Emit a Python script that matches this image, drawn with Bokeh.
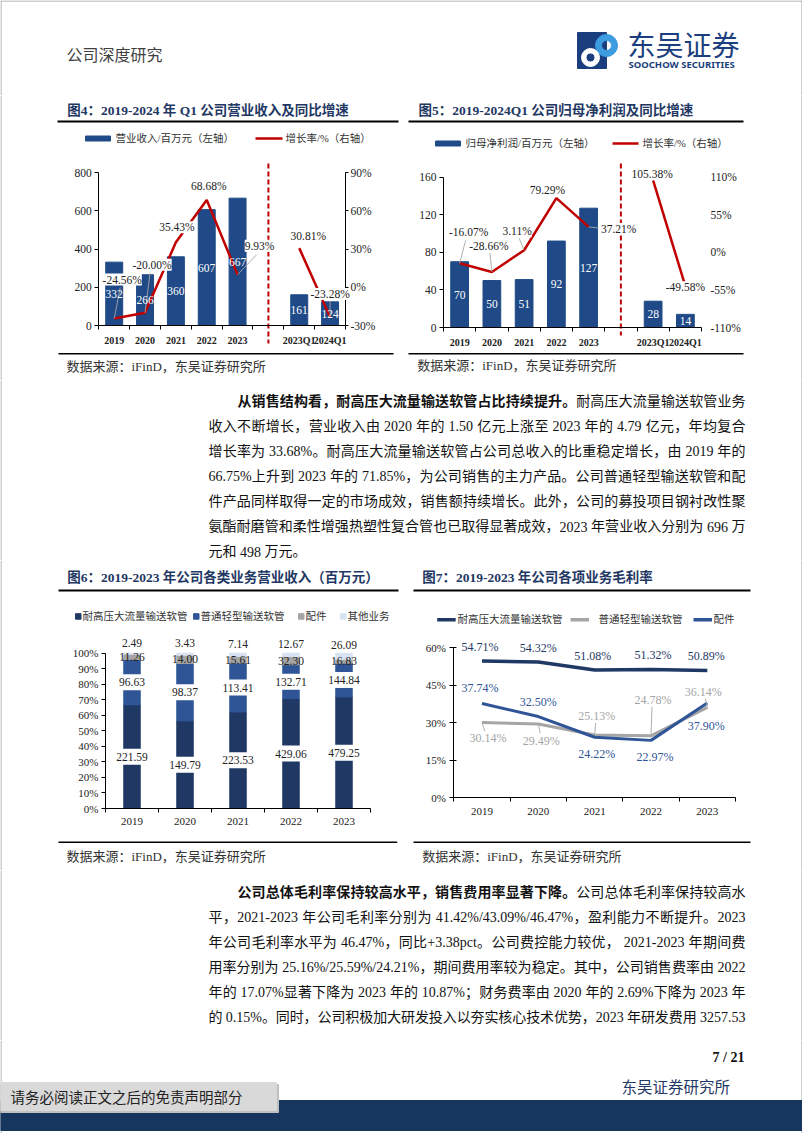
from bokeh.plotting import figure
from bokeh.models import (Range1d, LinearAxis, FixedTicker, LabelSet, ColumnDataSource,
                          PrintfTickFormatter, NumeralTickFormatter)
from bokeh.layouts import column, row
from bokeh.core.properties import value
from bokeh.embed import file_html
from bokeh.resources import INLINE

# ---------------- data ----------------
cats4 = ["2019", "2020", "2021", "2022", "2023", "", "2023Q1", "2024Q1"]
rev4 = [332, 266, 360, 607, 667, None, 161, 124]
gr4 = [-24.56, -20.00, 35.43, 68.68, 9.93, None, 30.81, -23.28]
lticks4 = [0, 200, 400, 600, 800]
rticks4 = [-30, 0, 30, 60, 90]

cats5 = ["2019", "2020", "2021", "2022", "2023", "", "2023Q1", "2024Q1"]
np5 = [70, 50, 51, 92, 127, None, 28, 14]
gr5 = [-16.07, -28.66, 3.11, 79.29, 37.21, None, 105.38, -49.58]
lticks5 = [0, 40, 80, 120, 160]
rticks5 = [-110, -55, 0, 55, 110]

years6 = ["2019", "2020", "2021", "2022", "2023"]
hp6 = [221.59, 149.79, 223.53, 429.06, 479.25]
lt6 = [96.63, 98.37, 113.41, 132.71, 144.84]
acc6 = [11.26, 14.00, 15.61, 32.30, 16.83]
oth6 = [2.49, 3.43, 7.14, 12.67, 26.09]
series6 = ["耐高压大流量输送软管", "普通轻型输送软管", "配件", "其他业务"]
yticks6 = [0, 0.1, 0.2, 0.3, 0.4, 0.5, 0.6, 0.7, 0.8, 0.9, 1.0]

years7 = ["2019", "2020", "2021", "2022", "2023"]
hp7 = [54.71, 54.32, 51.08, 51.32, 50.89]
lt7 = [30.14, 29.49, 25.13, 24.78, 36.14]
acc7 = [37.74, 32.50, 24.22, 22.97, 37.90]
series7 = ["耐高压大流量输送软管", "普通轻型输送软管", "配件"]
yticks7 = [0, 15, 30, 45, 60]

# ---------------- styles ----------------
MIX = "Liberation Serif, Noto Sans CJK SC"
SERIF = "Liberation Serif"
CJK = "Noto Sans CJK SC"
TITLE_C = "#1f3864"
RED = "#c00000"
BAR45 = "#1f4a87"
C6 = ["#1f3864", "#2f5597", "#a5a5a5", "#d9e2f3"]
C7 = ["#1f3864", "#a5a5a5", "#2f5597"]
LEAD = "#a6a6a6"
TXT = "#333333"
FRAME = "#a0a0a0"

off4 = [(8, 39), (7, 48), (1, 15), (2, 14), (22, 29), None, (9, 12), (0, 23)]
lead4 = [(6, 31), (5, 40), None, None, (19, 20), None, None, (0, 16)]
off5 = [(9, 31), (-3, 26), (-7, 19), (-9, 8), (30, -2), None, (-1, 6), (0, -1)]
lead5 = [(6, 23), (-2, 19), (-5, 12), None, (10, -1), None, None, None]
off6 = [0, 0, 0, 11]
box6_on = [True, True, False, False]
box6 = (34, 16)
off7 = [
    [(-2, 14.5), (0, 14.5), (-2, 14.5), (2, 14.5), (-1, 14.5)],
    [(6, -16), (3, -16.5), (2, 19), (2, 36), (-4, 15.5)],
    [(-2, 15), (0, 15), (2, -17), (4, -16.5), (-1, -22.5)],
]
lead7 = [(3, -9), (2, -9), (1, 12), (1, 29), (-2, 9)]

PX = dict(x_range_name="px", y_range_name="py")


def base_fig(xoff, top, w, h, xr, yr):
    p = figure(width=w, height=h, x_range=Range1d(*xr), y_range=Range1d(*yr),
               x_axis_type=None, y_axis_type=None, title=None, toolbar_location=None,
               output_backend="svg", min_border=0, outline_line_color=None)
    p.background_fill_color = "white"
    p.border_fill_color = "white"
    p.extra_x_ranges = {"px": Range1d(xoff, xoff + w)}
    p.extra_y_ranges = {"py": Range1d(top + h, top)}
    return p


def canvas(xoff, top, w, h):
    return base_fig(xoff, top, w, h, (xoff, xoff + w), (top + h, top))


def txt(p, x, y, s, size, color=TXT, font=MIX, style="normal", align="left"):
    p.text(x=[x], y=[y], text=[s], text_font=value(font), text_font_size=size,
           text_color=color, text_font_style=style, text_align=align,
           text_baseline="middle", **PX)


def hline(p, x0, x1, y, w=1.5, color="#000000"):
    p.segment(x0=[x0], y0=[y], x1=[x1], y1=[y], line_color=color, line_width=w, **PX)


def vline(p, x, y0, y1, w=1, color=FRAME):
    p.segment(x0=[x], y0=[y0], x1=[x], y1=[y1], line_color=color, line_width=w, **PX)


def style_axis(ax, size="12px", bold=False):
    ax.axis_line_color = "black"
    ax.axis_line_width = 1
    ax.major_tick_line_color = "black"
    ax.major_tick_out = 4
    ax.major_tick_in = 0
    ax.minor_tick_line_color = None
    ax.major_label_text_font = SERIF
    ax.major_label_text_font_size = size
    ax.major_label_text_color = "#222222"
    ax.major_label_text_font_style = "bold" if bold else "normal"
    ax.major_label_standoff = 3


def x_cat_axis(p, cats, size, bold, standoff):
    n = len(cats)
    ax = LinearAxis(fixed_location=0,
                    ticker=FixedTicker(ticks=list(range(n)),
                                       minor_ticks=[i - 0.5 for i in range(n + 1)]),
                    major_label_overrides={i: c for i, c in enumerate(cats)},
                    bounds=(-0.5, n - 0.5))
    style_axis(ax, size, bold)
    ax.major_tick_line_color = None
    ax.major_tick_out = 0
    ax.minor_tick_line_color = "black"
    ax.minor_tick_out = 4
    ax.minor_tick_in = 0
    ax.major_label_standoff = standoff
    p.add_layout(ax, "below")


def y_axis(p, ticks, loc, side, fmt=None, rname=None, size="12px", standoff=3):
    kw = {"y_range_name": rname} if rname else {}
    ax = LinearAxis(fixed_location=loc, ticker=FixedTicker(ticks=ticks),
                    bounds=(ticks[0], ticks[-1]), **kw)
    if fmt is not None:
        ax.formatter = fmt
    style_axis(ax, size)
    ax.major_label_standoff = standoff
    p.add_layout(ax, side)
    return ax


def add_labels(p, pad=None, **kw):
    ls = LabelSet(**kw)
    if pad is not None:
        try:
            ls.padding = pad
        except Exception:
            pass
    p.add_layout(ls)


# ---------------- combo panels (fig 4 / 5) ----------------
def combo_panel(xoff, cats, bars, growth, lticks, rticks, fl_page, fr_page, y0, yt,
                offs, leads, right_line, dash_bottom):
    W, H, top = 401, 285, 95
    n = len(cats)
    fl = fl_page - xoff
    ppx = (fr_page - fl_page) / n
    xr = (-0.5 - fl / ppx, -0.5 + (W - fl) / ppx)
    kl = (lticks[-1] - lticks[0]) / (y0 - yt)
    kr = (rticks[-1] - rticks[0]) / (y0 - yt)
    yr = (lticks[0] + (y0 - (top + H)) * kl, lticks[0] + (y0 - top) * kl)
    rr = (rticks[0] + (y0 - (top + H)) * kr, rticks[0] + (y0 - top) * kr)
    p = base_fig(xoff, top, W, H, xr, yr)
    p.extra_y_ranges = {"py": Range1d(top + H, top), "r": Range1d(*rr)}

    idx = [i for i, v in enumerate(bars) if v is not None]
    bsrc = ColumnDataSource(dict(x=idx, top=[bars[i] for i in idx],
                                 mid=[bars[i] / 2 for i in idx],
                                 t=[str(bars[i]) for i in idx]))
    p.vbar(x="x", top="top", width=0.55, color=BAR45, source=bsrc)

    x_cat_axis(p, cats, "10px", True, 5)
    y_axis(p, lticks, -0.5, "left", size="11.5px", standoff=3)
    ra = y_axis(p, rticks, n - 0.5, "right", fmt=PrintfTickFormatter(format="%d%%"),
                rname="r", size="11.5px", standoff=2)
    if right_line:
        ra.major_tick_out = 3
    else:
        ra.axis_line_color = None
        ra.major_tick_line_color = None
        ra.major_tick_out = 0
        ra.major_label_standoff = 9

    gap = cats.index("")
    p.segment(x0=[gap], y0=[163], x1=[gap], y1=[dash_bottom], y_range_name="py",
              line_color=RED, line_dash="5 3", line_width=2)

    run = []
    for i, g in enumerate(growth + [None]):
        if g is None:
            if run:
                p.line(x=run, y=[growth[j] for j in run], y_range_name="r",
                       line_color=RED, line_width=2.5)
            run = []
        else:
            run.append(i)

    lx0, ly0, lx1, ly1 = [], [], [], []
    for i, g in enumerate(growth):
        if g is None or leads[i] is None:
            continue
        dx, dy = leads[i]
        lx0.append(i); ly0.append(g)
        lx1.append(i + dx / ppx); ly1.append(g + dy * kr)
    p.segment(x0=lx0, y0=ly0, x1=lx1, y1=ly1, y_range_name="r",
              line_color=LEAD, line_width=0.9)

    add_labels(p, x="x", y="mid", text="t", source=bsrc, text_color="white",
               text_font=value(SERIF), text_font_size="11.5px",
               text_align="center", text_baseline="middle")

    gi = [i for i, g in enumerate(growth) if g is not None]
    gsrc = ColumnDataSource(dict(x=gi, y=[growth[i] for i in gi],
                                 t=["%.2f%%" % growth[i] for i in gi],
                                 dx=[offs[i][0] for i in gi], dy=[offs[i][1] for i in gi]))
    add_labels(p, pad=1, x="x", y="y", text="t", x_offset="dx", y_offset="dy",
               source=gsrc, y_range_name="r", text_color="#222222",
               text_font=value(SERIF), text_font_size="11.5px",
               text_align="center", text_baseline="middle",
               background_fill_color="white")
    return p


p4 = combo_panel(0, cats4, rev4, gr4, lticks4, rticks4, 98.3, 345, 325, 172.3,
                 off4, lead4, True, 343)
txt(p4, 66.7, 110, "图4：2019-2024 年 Q1 公司营业收入及同比增速", "13.5px", TITLE_C, style="bold")
hline(p4, 57, 398, 121, 1.8)
p4.quad(left=[85], right=[110], top=[135.5], bottom=[140.5], color=BAR45, **PX)
txt(p4, 115, 138, "营业收入/百万元（左轴）", "10.5px")
hline(p4, 255, 282, 138, 2.5, RED)
txt(p4, 285, 138, "增长率/%（右轴）", "10.5px")
hline(p4, 58, 393, 353.3, 1.5)
txt(p4, 66, 366, "数据来源：iFinD，东吴证券研究所", "13px")
vline(p4, 0.5, 95, 380)

p5 = combo_panel(401, cats5, np5, gr5, lticks5, rticks5, 443, 701, 327, 176.7,
                 off5, lead5, False, 335)
txt(p5, 418, 110, "图5：2019-2024Q1 公司归母净利润及同比增速", "13.5px", TITLE_C, style="bold")
hline(p5, 408, 743, 121, 1.8)
p5.quad(left=[435], right=[460], top=[140.5], bottom=[145.5], color=BAR45, **PX)
txt(p5, 465, 143, "归母净利润/百万元（左轴）", "10.5px")
hline(p5, 612, 638, 143, 2.5, RED)
txt(p5, 642, 143, "增长率/%（右轴）", "10.5px")
hline(p5, 408, 743, 353.3, 1.5)
txt(p5, 416.7, 365, "数据来源：iFinD，东吴证券研究所", "13px")
vline(p5, 801.5, 95, 380)


# ---------------- fig 6 stacked 100% ----------------
def stack_panel():
    W, H, top = 401, 310, 560
    y0, y100 = 808, 652.7
    fl, frx = 105, 370
    n = len(years6)
    ppx = (frx - fl) / n
    xr = (-0.5 - fl / ppx, -0.5 + (W - fl) / ppx)
    k = 1.0 / (y0 - y100)
    yr = ((y0 - (top + H)) * k, (y0 - top) * k)
    p = base_fig(0, top, W, H, xr, yr)

    vals = [hp6, lt6, acc6, oth6]
    keys = ["a", "b", "c", "d"]
    tot = [sum(v[i] for v in vals) for i in range(n)]
    data = {"x": list(range(n))}
    for kk, v in zip(keys, vals):
        data[kk] = [v[i] / tot[i] for i in range(n)]
    p.vbar_stack(keys, x="x", width=0.31, color=C6, source=ColumnDataSource(data))

    x_cat_axis(p, years6, "11px", False, 5)
    y_axis(p, yticks6, -0.5, "left", fmt=NumeralTickFormatter(format="0%"),
           size="11px", standoff=3)

    lx, ly, lt, ldy, bx, by = [], [], [], [], [], []
    for i in range(n):
        cum = 0
        for s, v in enumerate(vals):
            sh = v[i] / tot[i]
            dy = off6[s]
            lx.append(i); ly.append(cum + sh / 2)
            lt.append("%.2f" % v[i]); ldy.append(dy)
            if box6_on[s]:
                bx.append(i); by.append(cum + sh / 2 + dy * k)
            cum += sh
    # white label boxes behind the main-segment labels
    p.rect(x=bx, y=by, width=box6[0], height=box6[1], width_units="screen",
           height_units="screen", fill_color="white", line_color=None)
    add_labels(p, x="x", y="y", text="t", y_offset="dy",
               source=ColumnDataSource(dict(x=lx, y=ly, t=lt, dy=ldy)),
               text_color="#222222", text_font=value(SERIF), text_font_size="11.5px",
               text_align="center", text_baseline="middle")
    return p


p6 = stack_panel()
txt(p6, 66.7, 576.7, "图6：2019-2023 年公司各类业务营业收入（百万元）", "13.5px", TITLE_C, style="bold")
hline(p6, 58, 398, 590, 1.8)
for sx, tx, lab, col in zip([75, 193, 298, 340], [82, 200, 305, 347], series6, C6):
    p6.quad(left=[sx], right=[sx + 5.5], top=[613.2], bottom=[618.7], color=col, **PX)
    txt(p6, tx, 616, lab, "10.5px")
hline(p6, 58, 396.7, 841.7, 1.5)
txt(p6, 66, 856, "数据来源：iFinD，东吴证券研究所", "13px")
vline(p6, 0.5, 560, 870)


# ---------------- fig 7 lines ----------------
def line_panel():
    W, H, top, xoff = 401, 310, 560, 401
    y0, y60 = 797.3, 647.3
    fl, frx = 453.3 - xoff, 735 - xoff
    n = len(years7)
    ppx = (frx - fl) / n
    xr = (-0.5 - fl / ppx, -0.5 + (W - fl) / ppx)
    k = yticks7[-1] / (y0 - y60)
    yr = ((y0 - (top + H)) * k, (y0 - top) * k)
    p = base_fig(xoff, top, W, H, xr, yr)

    xs = list(range(n))
    series = [hp7, lt7, acc7]
    widths = [3.5, 3, 3]
    for s in (1, 2, 0):
        p.line(x=xs, y=series[s], line_color=C7[s], line_width=widths[s])

    x_cat_axis(p, years7, "11px", False, 6)
    ya = y_axis(p, yticks7, -0.5, "left", fmt=PrintfTickFormatter(format="%d%%"),
                size="11px", standoff=4)
    ya.major_tick_in = 3

    p.segment(x0=xs, y0=lt7, x1=[i + lead7[i][0] / ppx for i in xs],
              y1=[lt7[i] + lead7[i][1] * k for i in xs], line_color=LEAD, line_width=0.9)

    for s in range(3):
        src = ColumnDataSource(dict(x=xs, y=series[s], t=["%.2f%%" % v for v in series[s]],
                                    dx=[o[0] for o in off7[s]], dy=[o[1] for o in off7[s]]))
        add_labels(p, x="x", y="y", text="t", x_offset="dx", y_offset="dy",
                   source=src, text_color=C7[s], text_font=value(SERIF),
                   text_font_size="12px", text_align="center", text_baseline="middle")
    return p


p7 = line_panel()
txt(p7, 421.7, 576.7, "图7：2019-2023 年公司各项业务毛利率", "13.5px", TITLE_C, style="bold")
hline(p7, 413, 750, 590, 1.8)
for sx, tx, lab, col in zip([436.7, 570, 693], [457, 598, 713], series7, C7):
    hline(p7, sx, sx + 18.5, 619.3, 3.5, col)
    txt(p7, tx, 619.3, lab, "10.5px")
hline(p7, 413, 750, 841.7, 1.5)
txt(p7, 421.7, 856, "数据来源：iFinD，东吴证券研究所", "13px")
vline(p7, 801.5, 560, 870)

# ---------------- body text ----------------
PARA1 = [
    "从销售结构看，耐高压大流量输送软管占比持续提升。耐高压大流量输送软管业务",
    "收入不断增长，营业收入由 2020 年的 1.50 亿元上涨至 2023 年的 4.79 亿元，年均复合",
    "增长率为 33.68%。耐高压大流量输送软管占公司总收入的比重稳定增长，由 2019 年的",
    "66.75%上升到 2023 年的 71.85%，为公司销售的主力产品。公司普通轻型输送软管和配",
    "件产品同样取得一定的市场成效，销售额持续增长。此外，公司的募投项目钢衬改性聚",
    "氨酯耐磨管和柔性增强热塑性复合管也已取得显著成效，2023 年营业收入分别为 696 万",
    "元和 498 万元。",
]
PARA2 = [
    "公司总体毛利率保持较高水平，销售费用率显著下降。公司总体毛利率保持较高水",
    "平，2021-2023 年公司毛利率分别为 41.42%/43.09%/46.47%，盈利能力不断提升。2023",
    "年公司毛利率水平为 46.47%，同比+3.38pct。公司费控能力较优， 2021-2023 年期间费",
    "用率分别为 25.16%/25.59%/24.21%，期间费用率较为稳定。其中，公司销售费率由 2022",
    "年的 17.07%显著下降为 2023 年的 10.87%；财务费率由 2020 年的 2.69%下降为 2023 年",
    "的 0.15%。同时，公司积极加大研发投入以夯实核心技术优势，2023 年研发费用 3257.53",
]
WT = {".": 250, ",": 250, "%": 833, "/": 278, "-": 333, "+": 564, " ": 250,
      "p": 500, "c": 444, "t": 278}


def cw(ch):
    if ord(ch) > 0x2000:
        return 1.0
    if ch.isdigit():
        return 0.5
    return WT.get(ch, 500) / 1000


def tokenize(s):
    toks, run, start = [], "", 0
    for i, ch in enumerate(s):
        if ord(ch) > 0x2000 or ch == " ":
            if run:
                toks.append((run, start))
                run = ""
            toks.append((ch, i))
        else:
            if not run:
                start = i
            run += ch
    if run:
        toks.append((run, start))
    return toks


def paragraph(lines, bold_n, top, h, y0, dy, x0, x1, xind, justify_last):
    p = canvas(0, top, 802, h)
    nx, ny, nt, bx, by, bt = [], [], [], [], [], []
    fs = 14
    for k, line in enumerate(lines):
        start = xind if k == 0 else x0
        toks = tokenize(line)
        ws = [sum(cw(c) for c in t) * fs for t, _ in toks]
        just = justify_last or k < len(lines) - 1
        extra = (x1 - start - sum(ws)) / (len(toks) - 1) if just and len(toks) > 1 else 0
        x = start
        y = y0 + k * dy
        for (t, ci), w in zip(toks, ws):
            if t != " ":
                if k == 0 and ci < bold_n:
                    bx.append(x); by.append(y); bt.append(t)
                else:
                    nx.append(x); ny.append(y); nt.append(t)
            x += w + extra
    p.text(x=nx, y=ny, text=nt, text_font=value(MIX), text_font_size="14px",
           text_color="#111111", text_baseline="middle", **PX)
    p.text(x=bx, y=by, text=bt, text_font=value(MIX), text_font_size="14px",
           text_font_style="bold", text_color="#111111", text_baseline="middle", **PX)
    vline(p, 0.5, top, top + h)
    vline(p, 801.5, top, top + h)
    return p


para1 = paragraph(PARA1, 24, 380, 180, 400.5, 25.1, 208, 745, 237, False)
para2 = paragraph(PARA2, 24, 870, 170, 891.7, 25.0, 208, 745, 237, True)

# ---------------- header / footer ----------------
hd = canvas(0, 0, 802, 95)
hline(hd, 0, 802, 0.5, 1, FRAME)
vline(hd, 0.5, 0, 95)
vline(hd, 801.5, 0, 95)
txt(hd, 66, 53, "公司深度研究", "16px", "#404040", font=CJK)
hd.quad(left=[577], right=[606], top=[32], bottom=[68], color="#1b3f7e", **PX)
hd.annulus(x=[606], y=[45], inner_radius=5, outer_radius=11, color="#3d9be0", **PX)
hd.annulus(x=[590], y=[57], inner_radius=4.5, outer_radius=9, color="white", **PX)
txt(hd, 627, 43, "东吴证券", "28px", "#1b3f7e", font=CJK)
txt(hd, 628, 64, "SOOCHOW SECURITIES", "9.5px", "#1b3f7e", font="Noto Sans", style="bold")

ft = canvas(0, 1040, 802, 93)
vline(ft, 0.5, 1040, 1133)
vline(ft, 801.5, 1040, 1133)
ft.quad(left=[0], right=[802], top=[1100], bottom=[1130], color="#17365d", **PX)
ft.quad(left=[0], right=[278], top=[1084], bottom=[1112], color="#bfbfbf", **PX)
ft.quad(left=[0], right=[276], top=[1082], bottom=[1110], color="#d9d9d9", **PX)
txt(ft, 10, 1096, "请务必阅读正文之后的免责声明部分", "14.5px", "#222222", font=CJK)
txt(ft, 744, 1057, "7 / 21", "14px", "#111111", font=SERIF, style="bold", align="right")
txt(ft, 621, 1085, "东吴证券研究所", "15.5px", "#1f3864", font=CJK)

root = column(hd, row(p4, p5, spacing=0), para1, row(p6, p7, spacing=0), para2, ft,
              spacing=0)

with open("out.html", "w", encoding="utf-8") as f:
    f.write(file_html(root, INLINE))
